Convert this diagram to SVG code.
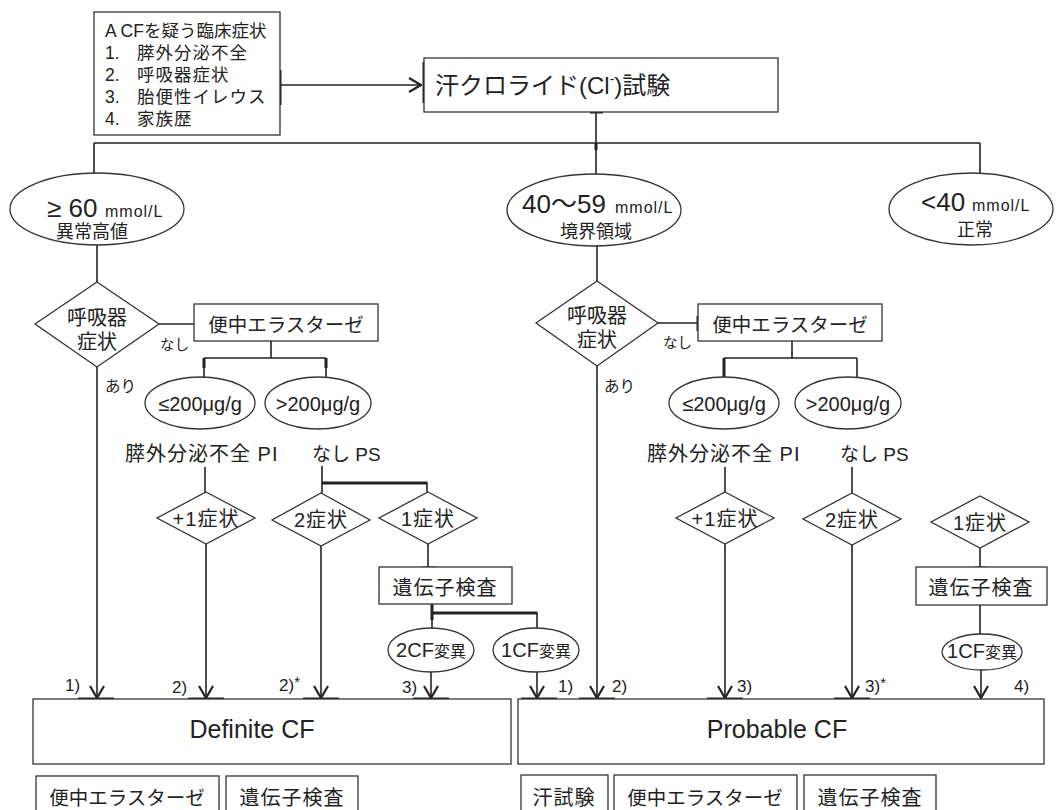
<svg xmlns="http://www.w3.org/2000/svg" width="1056" height="810" viewBox="0 0 1056 810">
<defs>
<style>
.bx{fill:#fff;stroke:#333;stroke-width:1.3}
.ln{fill:none;stroke:#222;stroke-width:1.6}
.tk{fill:none;stroke:#222;stroke-width:3}
.t{font-family:"Liberation Sans","Noto Sans CJK JP",sans-serif;fill:#222}
.m{text-anchor:middle}
</style>
<marker id="arr" viewBox="0 0 14 16" refX="13" refY="8" markerWidth="14" markerHeight="16" markerUnits="userSpaceOnUse" orient="auto">
<path d="M1,1 L13,8 L1,15" fill="none" stroke="#222" stroke-width="2.2"/>
</marker>
</defs>
<rect width="1056" height="810" fill="#fff"/>

<g id="connectors">
<path class="ln" marker-end="url(#arr)" d="M280,85 H421"/>
<path class="ln" d="M596,112 V175 M94,143 H980 M94,143 V173 M980,143 V174"/>
<path class="ln" d="M97,245 V282"/>
<path class="ln" marker-end="url(#arr)" d="M97,367 V698"/>
<path class="ln" d="M159,324 H194"/>
<path class="ln" d="M271,341 V358 M204,358 H326 M204,358 V377 M326,358 V378"/>
<path class="ln" d="M205,467 V492"/>
<path class="ln" marker-end="url(#arr)" d="M206,544 V698"/>
<path class="ln" d="M322,466 V493 M322,483 H427 V492"/>
<path class="ln" marker-end="url(#arr)" d="M321,546 V698"/>
<path class="ln" d="M428,544 V567"/>
<path class="ln" d="M432,604 V628 M432,613 H537 V628"/>
<path class="ln" marker-end="url(#arr)" d="M431,672 V698"/>
<path class="ln" marker-end="url(#arr)" d="M537,672 V698"/>
<path class="ln" d="M597,245 V281"/>
<path class="ln" marker-end="url(#arr)" d="M597,366 V698"/>
<path class="ln" d="M658,323 H698"/>
<path class="ln" d="M792,341 V358 M724,358 H857 M724,358 V377 M857,358 V378"/>
<path class="ln" d="M725,467 V493"/>
<path class="ln" marker-end="url(#arr)" d="M725,544 V698"/>
<path class="ln" d="M852,467 V493"/>
<path class="ln" marker-end="url(#arr)" d="M852,545 V698"/>
<path class="ln" d="M980,548 V567 M980,605 V634"/>
<path class="ln" marker-end="url(#arr)" d="M981,670 V698"/>
<path class="tk" d="M280,70 V105 M424,62 V103 M590,112 H603 M596,143 V150 M698,316 V331 M204,358 V368 M326,358 V368 M724,358 V378 M322,483 H427 M422,568 H436 M432,604 V620 M432,613 H537 M975,568 H986"/>
<path class="tk" d="M78,699 H114 M188,699 H224 M303,699 H339 M413,699 H449 M521,699 H557 M579,699 H615 M707,699 H743 M834,699 H870"/>
</g>

<g id="n_symptoms">
<rect class="bx" x="94" y="12" width="186" height="123"/>
<text class="t" x="105" y="37" font-size="17.5">A CFを疑う臨床症状</text>
<text class="t" x="105" y="59" font-size="17.5">1.</text><text class="t" x="137" y="59" font-size="17.5" letter-spacing="1">膵外分泌不全</text>
<text class="t" x="105" y="81" font-size="17.5">2.</text><text class="t" x="137" y="81" font-size="17.5" letter-spacing="1">呼吸器症状</text>
<text class="t" x="105" y="103" font-size="17.5">3.</text><text class="t" x="137" y="103" font-size="17.5" letter-spacing="1">胎便性イレウス</text>
<text class="t" x="105" y="125" font-size="17.5">4.</text><text class="t" x="137" y="125" font-size="17.5" letter-spacing="1">家族歴</text>
</g>

<g id="n_test">
<rect class="bx" x="424" y="58" width="354" height="54"/>
<text class="t" x="435" y="94" font-size="24">汗クロライド(Cl<tspan font-size="14" dy="-10">-</tspan><tspan dy="10">)試験</tspan></text>
</g>

<g id="n_high">
<ellipse class="bx" cx="97" cy="209" rx="87" ry="36"/>
<text class="t" x="47" y="217" font-size="26">≥ 60</text>
<text class="t" x="105" y="217" font-size="16" letter-spacing="1">mmol/L</text>
<text class="t m" x="92" y="238" font-size="18">異常高値</text>
</g>

<g id="n_mid">
<ellipse class="bx" cx="594" cy="210" rx="87" ry="36"/>
<text class="t" x="522" y="213" font-size="26">40〜59</text>
<text class="t" x="615" y="213" font-size="16" letter-spacing="1">mmol/L</text>
<text class="t m" x="596" y="238" font-size="18">境界領域</text>
</g>

<g id="n_low">
<ellipse class="bx" cx="971" cy="209" rx="82" ry="36"/>
<text class="t" x="921" y="211" font-size="26">&lt;40</text>
<text class="t" x="972" y="211" font-size="16" letter-spacing="1">mmol/L</text>
<text class="t m" x="975" y="236" font-size="18">正常</text>
</g>

<g id="n_resp1">
<polygon class="bx" points="97,282 159,324 97,367 35,324"/>
<text class="t m" x="97" y="325" font-size="20">呼吸器</text>
<text class="t m" x="97" y="349" font-size="20">症状</text>
</g>
<g id="n_resp2">
<polygon class="bx" points="597,281 658,323 597,366 536,323"/>
<text class="t m" x="597" y="323" font-size="20">呼吸器</text>
<text class="t m" x="597" y="347" font-size="20">症状</text>
</g>

<g id="labels">
<text class="t" x="160" y="350" font-size="14.5">なし</text>
<text class="t" x="663" y="348" font-size="14.5">なし</text>
<text class="t" x="105" y="392" font-size="15.5">あり</text>
<text class="t" x="604" y="392" font-size="15.5">あり</text>
<text class="t" x="125" y="461" font-size="20" letter-spacing="1">膵外分泌不全 PI</text>
<text class="t" x="312" y="461" font-size="19">なし PS</text>
<text class="t" x="647" y="461" font-size="20" letter-spacing="1">膵外分泌不全 PI</text>
<text class="t" x="840" y="461" font-size="19">なし PS</text>
<text class="t" x="65" y="691" font-size="17">1)</text>
<text class="t" x="172" y="693" font-size="17">2)</text>
<text class="t" x="279" y="691" font-size="17">2)<tspan font-size="15" dy="-4">*</tspan></text>
<text class="t" x="402" y="693" font-size="17">3)</text>
<text class="t" x="558" y="692" font-size="17">1)</text>
<text class="t" x="612" y="692" font-size="17">2)</text>
<text class="t" x="737" y="692" font-size="17">3)</text>
<text class="t" x="865" y="692" font-size="17">3)<tspan font-size="15" dy="-4">*</tspan></text>
<text class="t" x="1014" y="692" font-size="17">4)</text>
</g>

<g id="n_ela1">
<rect class="bx" x="194" y="304" width="184" height="37"/>
<text class="t m" x="286" y="332" font-size="19.5">便中エラスターゼ</text>
</g>
<g id="n_ela2">
<rect class="bx" x="698" y="304" width="184" height="37"/>
<text class="t m" x="790" y="332" font-size="19.5">便中エラスターゼ</text>
</g>

<g id="n_le200_1">
<ellipse class="bx" cx="200" cy="403" rx="55" ry="26"/>
<text class="t m" x="200" y="411" font-size="20">≤200μg/g</text>
</g>
<g id="n_gt200_1">
<ellipse class="bx" cx="318" cy="403" rx="53" ry="26"/>
<text class="t m" x="318" y="411" font-size="20">&gt;200μg/g</text>
</g>
<g id="n_le200_2">
<ellipse class="bx" cx="724" cy="403" rx="55" ry="26"/>
<text class="t m" x="724" y="411" font-size="20">≤200μg/g</text>
</g>
<g id="n_gt200_2">
<ellipse class="bx" cx="848" cy="403" rx="53" ry="26"/>
<text class="t m" x="848" y="411" font-size="20">&gt;200μg/g</text>
</g>

<g id="n_plus1_1">
<polygon class="bx" points="206,492 255,518 206,544 157,518"/>
<text class="t m" x="206" y="526" font-size="20" letter-spacing="1">+1症状</text>
</g>
<g id="n_two_1">
<polygon class="bx" points="321,493 370,520 321,546 272,520"/>
<text class="t m" x="321" y="527" font-size="20" letter-spacing="1">2症状</text>
</g>
<g id="n_one_1">
<polygon class="bx" points="428,492 477,518 428,544 379,518"/>
<text class="t m" x="428" y="526" font-size="20" letter-spacing="1">1症状</text>
</g>
<g id="n_plus1_2">
<polygon class="bx" points="725,492 774,518 725,544 676,518"/>
<text class="t m" x="725" y="526" font-size="20" letter-spacing="1">+1症状</text>
</g>
<g id="n_two_2">
<polygon class="bx" points="852,493 901,519 852,545 803,519"/>
<text class="t m" x="852" y="527" font-size="20" letter-spacing="1">2症状</text>
</g>
<g id="n_one_2">
<polygon class="bx" points="980,496 1029,522 980,548 931,522"/>
<text class="t m" x="980" y="530" font-size="20" letter-spacing="1">1症状</text>
</g>

<g id="n_gene1">
<rect class="bx" x="379" y="567" width="133" height="37"/>
<text class="t m" x="445" y="595" font-size="20" letter-spacing="1">遺伝子検査</text>
</g>
<g id="n_gene2">
<rect class="bx" x="916" y="567" width="131" height="38"/>
<text class="t m" x="981" y="595" font-size="20" letter-spacing="1">遺伝子検査</text>
</g>

<g id="n_2cf">
<ellipse class="bx" cx="431" cy="650" rx="43" ry="22"/>
<text class="t m" x="431" y="657" font-size="20">2CF<tspan font-size="16">変異</tspan></text>
</g>
<g id="n_1cf_1">
<ellipse class="bx" cx="536" cy="650" rx="43" ry="22"/>
<text class="t m" x="536" y="657" font-size="20">1CF<tspan font-size="16">変異</tspan></text>
</g>
<g id="n_1cf_2">
<ellipse class="bx" cx="982" cy="652" rx="40" ry="18"/>
<text class="t m" x="982" y="658" font-size="20">1CF<tspan font-size="16">変異</tspan></text>
</g>

<g id="n_definite">
<rect class="bx" x="33" y="699" width="478" height="65"/>
<text class="t m" x="252" y="738" font-size="25">Definite CF</text>
</g>
<g id="n_probable">
<rect class="bx" x="518" y="699" width="526" height="65"/>
<text class="t m" x="777" y="738" font-size="25">Probable CF</text>
</g>

<g id="n_foot1"><rect class="bx" x="36" y="776" width="183" height="40"/><text class="t m" x="127" y="805" font-size="19.5">便中エラスターゼ</text></g>
<g id="n_foot2"><rect class="bx" x="226" y="776" width="132" height="40"/><text class="t m" x="292" y="805" font-size="20" letter-spacing="1">遺伝子検査</text></g>
<g id="n_foot3"><rect class="bx" x="521" y="775" width="87" height="40"/><text class="t m" x="564" y="805" font-size="20" letter-spacing="1">汗試験</text></g>
<g id="n_foot4"><rect class="bx" x="614" y="775" width="183" height="40"/><text class="t m" x="705" y="805" font-size="19.5">便中エラスターゼ</text></g>
<g id="n_foot5"><rect class="bx" x="804" y="775" width="132" height="40"/><text class="t m" x="870" y="805" font-size="20" letter-spacing="1">遺伝子検査</text></g>
</svg>
